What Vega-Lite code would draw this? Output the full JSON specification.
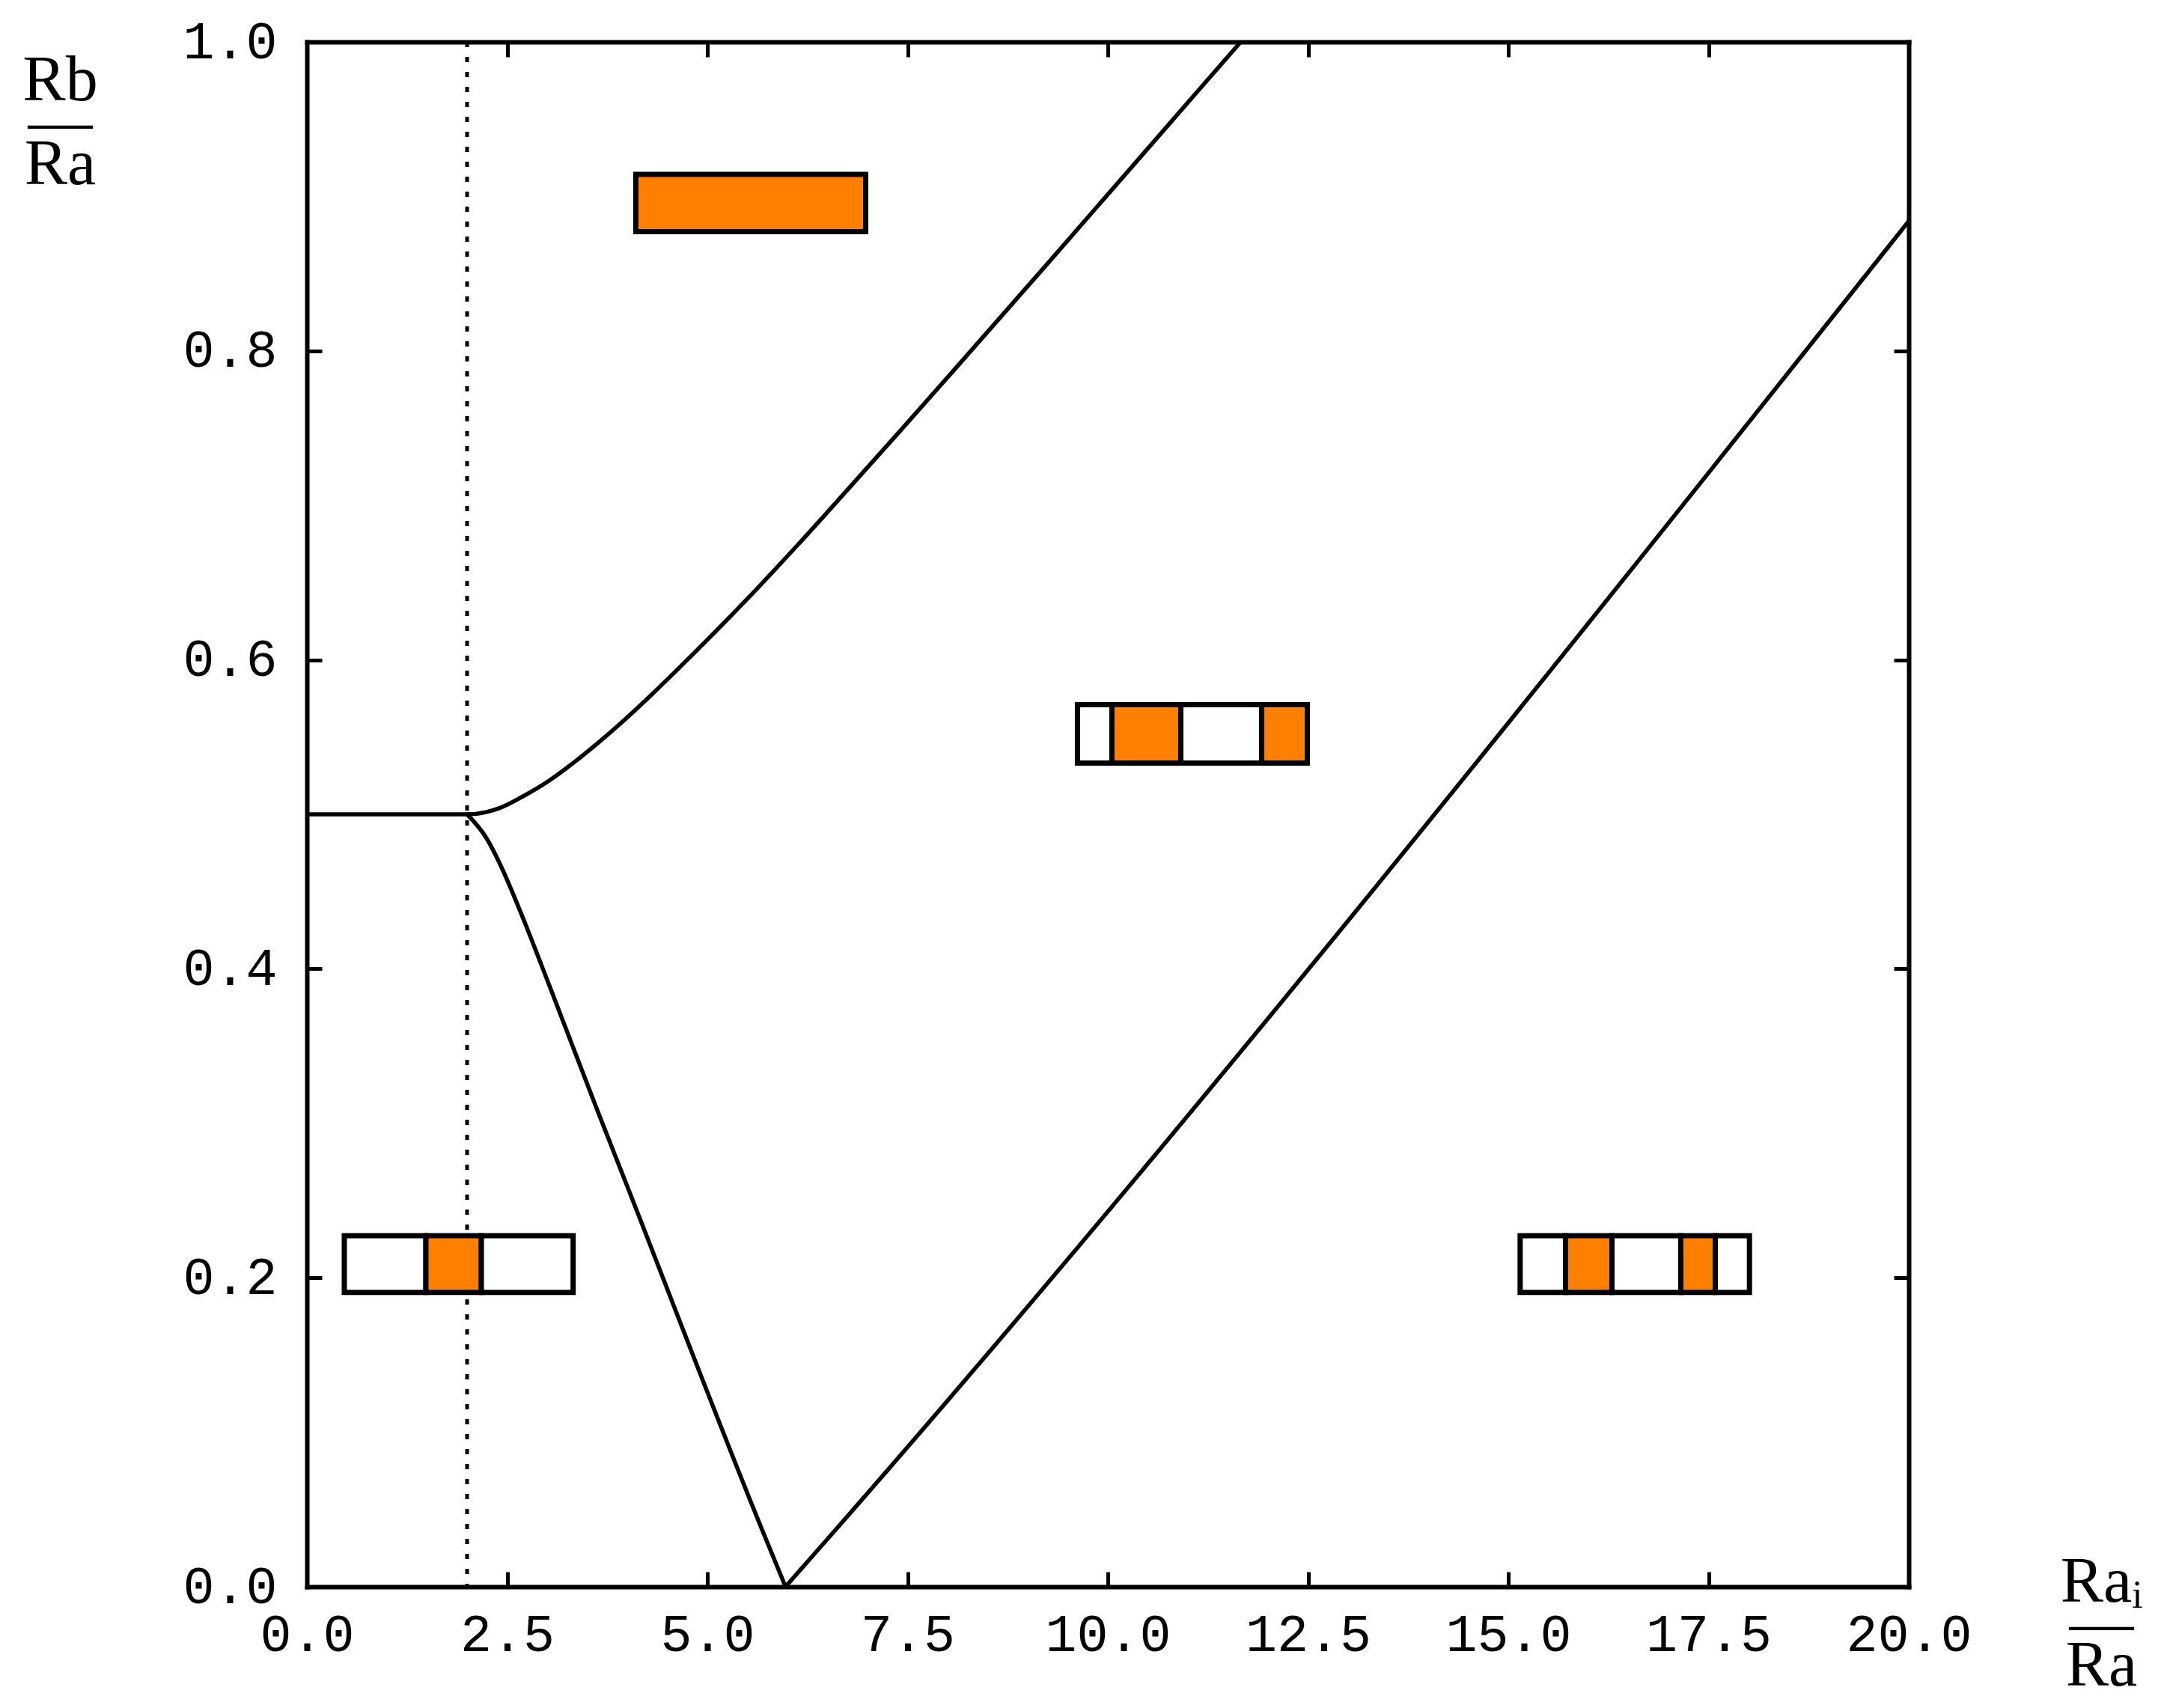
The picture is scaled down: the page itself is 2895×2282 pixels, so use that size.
{
  "$schema": "https://vega.github.io/schema/vega-lite/v6.json",
  "width": 2140,
  "height": 2064,
  "autosize": "none",
  "padding": {"left": 410, "top": 56, "right": 345, "bottom": 162},
  "background": "white",
  "datasets": {
    "curves": [
      {"curve": "upper", "ra_i": 0, "rb": 0.5},
      {"curve": "upper", "ra_i": 2, "rb": 0.5},
      {"curve": "upper", "ra_i": 2.243, "rb": 0.5015},
      {"curve": "upper", "ra_i": 2.399, "rb": 0.5039},
      {"curve": "upper", "ra_i": 2.71, "rb": 0.512},
      {"curve": "upper", "ra_i": 3.021, "rb": 0.5217},
      {"curve": "upper", "ra_i": 3.334, "rb": 0.5336},
      {"curve": "upper", "ra_i": 3.645, "rb": 0.5467},
      {"curve": "upper", "ra_i": 3.956, "rb": 0.5607},
      {"curve": "upper", "ra_i": 4.268, "rb": 0.5757},
      {"curve": "upper", "ra_i": 4.595, "rb": 0.5921},
      {"curve": "upper", "ra_i": 5.514, "rb": 0.6403},
      {"curve": "upper", "ra_i": 6.137, "rb": 0.6749},
      {"curve": "upper", "ra_i": 6.76, "rb": 0.7107},
      {"curve": "upper", "ra_i": 7.383, "rb": 0.7468},
      {"curve": "upper", "ra_i": 8.068, "rb": 0.7869},
      {"curve": "upper", "ra_i": 9.252, "rb": 0.8568},
      {"curve": "upper", "ra_i": 9.876, "rb": 0.8939},
      {"curve": "upper", "ra_i": 10.498, "rb": 0.9309},
      {"curve": "upper", "ra_i": 11.121, "rb": 0.968},
      {"curve": "upper", "ra_i": 11.66, "rb": 1.0},
      {"curve": "lower", "ra_i": 2, "rb": 0.5},
      {"curve": "lower", "ra_i": 2.243, "rb": 0.4845},
      {"curve": "lower", "ra_i": 2.399, "rb": 0.4691},
      {"curve": "lower", "ra_i": 2.554, "rb": 0.451},
      {"curve": "lower", "ra_i": 2.71, "rb": 0.4313},
      {"curve": "lower", "ra_i": 3.021, "rb": 0.39},
      {"curve": "lower", "ra_i": 3.334, "rb": 0.3478},
      {"curve": "lower", "ra_i": 3.645, "rb": 0.306},
      {"curve": "lower", "ra_i": 3.956, "rb": 0.265},
      {"curve": "lower", "ra_i": 5.707, "rb": 0.0339},
      {"curve": "lower", "ra_i": 5.976, "rb": 0.0},
      {"curve": "right", "ra_i": 5.976, "rb": 0.0},
      {"curve": "right", "ra_i": 6.551, "rb": 0.0339},
      {"curve": "right", "ra_i": 20, "rb": 0.884}
    ],
    "boxes": [
      {"box": "A", "state": "filled", "x_start": 4.107, "x_end": 6.977, "y_low": 0.8772, "y_high": 0.9142},
      {"box": "B", "state": "empty", "x_start": 9.621, "x_end": 10.051, "y_low": 0.5332, "y_high": 0.571},
      {"box": "B", "state": "filled", "x_start": 10.051, "x_end": 10.911, "y_low": 0.5332, "y_high": 0.571},
      {"box": "B", "state": "empty", "x_start": 10.911, "x_end": 11.921, "y_low": 0.5332, "y_high": 0.571},
      {"box": "B", "state": "filled", "x_start": 11.921, "x_end": 12.491, "y_low": 0.5332, "y_high": 0.571},
      {"box": "C", "state": "empty", "x_start": 0.467, "x_end": 1.486, "y_low": 0.1905, "y_high": 0.2272},
      {"box": "C", "state": "filled", "x_start": 1.486, "x_end": 2.178, "y_low": 0.1905, "y_high": 0.2272},
      {"box": "C", "state": "empty", "x_start": 2.178, "x_end": 3.324, "y_low": 0.1905, "y_high": 0.2272},
      {"box": "D", "state": "empty", "x_start": 15.148, "x_end": 15.715, "y_low": 0.1905, "y_high": 0.2272},
      {"box": "D", "state": "filled", "x_start": 15.715, "x_end": 16.294, "y_low": 0.1905, "y_high": 0.2272},
      {"box": "D", "state": "empty", "x_start": 16.294, "x_end": 17.154, "y_low": 0.1905, "y_high": 0.2272},
      {"box": "D", "state": "filled", "x_start": 17.154, "x_end": 17.584, "y_low": 0.1905, "y_high": 0.2272},
      {"box": "D", "state": "empty", "x_start": 17.584, "x_end": 18.011, "y_low": 0.1905, "y_high": 0.2272}
    ],
    "threshold": [
      {"ra_i": 2}
    ]
  },
  "layer": [
    {
      "data": {"name": "threshold"},
      "mark": {"type": "rule", "color": "black", "strokeWidth": 5, "strokeDash": [7, 13]},
      "encoding": {
        "x": {"field": "ra_i", "type": "quantitative", "axis": null}
      }
    },
    {
      "data": {"name": "curves"},
      "mark": {"type": "line", "color": "black", "strokeWidth": 5.5, "clip": true, "interpolate": "monotone", "strokeCap": "round", "strokeJoin": "round"},
      "encoding": {
        "x": {
          "field": "ra_i", "type": "quantitative",
          "scale": {"domain": [0, 20], "nice": false, "zero": false},
          "axis": {
            "orient": "bottom",
            "values": [0, 2.5, 5, 7.5, 10, 12.5, 15, 17.5, 20],
            "format": ".1f",
            "labelPadding": 50,
            "title": ["Raᵢ", "—", "Ra"],
            "titleX": 2397,
            "titleY": 19,
            "titleAlign": "center",
            "titleBaseline": "alphabetic",
            "titleAngle": 0
          }
        },
        "y": {
          "field": "rb", "type": "quantitative",
          "scale": {"domain": [0, 1], "nice": false},
          "axis": {
            "orient": "left",
            "values": [0, 0.2, 0.4, 0.6, 0.8, 1.0],
            "format": ".1f",
            "labelPadding": 60,
            "title": ["Rb", "—", "Ra"],
            "titleX": -330,
            "titleY": 77,
            "titleAlign": "center",
            "titleBaseline": "alphabetic",
            "titleAngle": 0
          }
        },
        "detail": {"field": "curve"}
      }
    },
    {
      "data": {"name": "boxes"},
      "mark": {"type": "rect", "stroke": "black", "strokeWidth": 7},
      "encoding": {
        "x": {
          "field": "x_start", "type": "quantitative",
          "axis": {"orient": "top", "values": [0, 2.5, 5, 7.5, 10, 12.5, 15, 17.5, 20], "labels": false, "title": null}
        },
        "x2": {"field": "x_end"},
        "y": {
          "field": "y_low", "type": "quantitative",
          "axis": {"orient": "right", "values": [0, 0.2, 0.4, 0.6, 0.8, 1.0], "labels": false, "title": null}
        },
        "y2": {"field": "y_high"},
        "fill": {
          "field": "state", "type": "nominal",
          "scale": {"domain": ["filled", "empty"], "range": ["#ff8000", "#ffffff"]},
          "legend": null
        }
      }
    }
  ],
  "resolve": {"axis": {"x": "independent", "y": "independent"}},
  "config": {
    "view": {"stroke": null},
    "axis": {
      "grid": false,
      "domainColor": "black",
      "domainWidth": 6,
      "domainCap": "square",
      "tickColor": "black",
      "tickWidth": 5,
      "tickSize": -20,
      "labelFont": "Liberation Mono",
      "labelFontSize": 70,
      "labelColor": "black",
      "labelFlush": false,
      "labelOverlap": false,
      "labelBound": false,
      "titleFont": "Liberation Serif",
      "titleFontSize": 86,
      "titleFontWeight": "normal",
      "titleColor": "black",
      "titleLineHeight": 56
    }
  }
}
